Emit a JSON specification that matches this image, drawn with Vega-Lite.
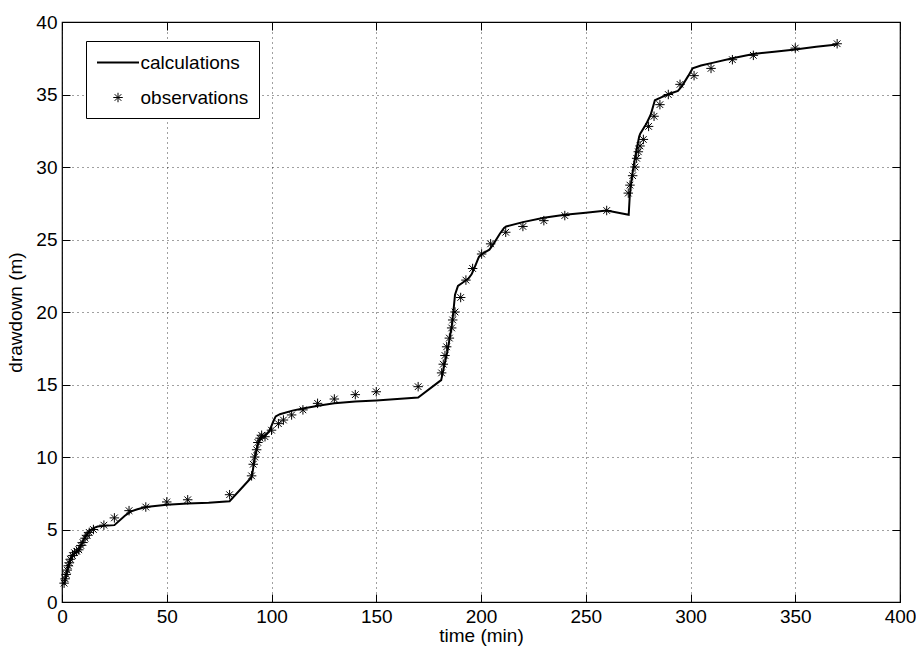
{
  "$schema": "https://vega.github.io/schema/vega-lite/v6.json",
  "width": 838,
  "height": 580,
  "autosize": {"type": "none"},
  "padding": {"left": 62, "top": 22, "right": 16, "bottom": 44},
  "background": "white",
  "config": {
    "font": "Liberation Sans",
    "view": {"stroke": "black", "strokeWidth": 1.2},
    "axis": {
      "labelFont": "Liberation Sans",
      "labelFontSize": 19,
      "labelColor": "black",
      "titleFont": "Liberation Sans",
      "titleFontSize": 19,
      "titleFontWeight": "normal",
      "titleColor": "black",
      "domain": false,
      "tickColor": "black",
      "tickSize": -8,
      "gridColor": "black",
      "gridDash": [1, 4],
      "gridOpacity": 0.75,
      "gridWidth": 1
    },
    "legend": {
      "title": null,
      "orient": "none",
      "legendX": 24,
      "legendY": 19,
      "strokeColor": "black",
      "fillColor": "white",
      "padding": 10,
      "labelFont": "Liberation Sans",
      "labelFontSize": 19,
      "labelColor": "black",
      "labelOffset": 11,
      "symbolOffset": 10.5,
      "rowPadding": 15,
      "symbolStrokeColor": "black",
      "symbolFillColor": "transparent"
    }
  },
  "datasets": {
    "calc": [
      {"t": 1, "d": 1.2}, {"t": 2, "d": 1.9}, {"t": 3, "d": 2.5}, {"t": 4, "d": 2.9}, {"t": 5, "d": 3.2},
      {"t": 6, "d": 3.35}, {"t": 7, "d": 3.45}, {"t": 8, "d": 3.6}, {"t": 9, "d": 3.9}, {"t": 10, "d": 4.2},
      {"t": 11, "d": 4.5}, {"t": 12, "d": 4.7}, {"t": 13, "d": 4.9}, {"t": 15, "d": 5.1}, {"t": 17, "d": 5.2},
      {"t": 20, "d": 5.25}, {"t": 25, "d": 5.3}, {"t": 30, "d": 5.95}, {"t": 33, "d": 6.25}, {"t": 36, "d": 6.4},
      {"t": 40, "d": 6.55}, {"t": 50, "d": 6.7}, {"t": 60, "d": 6.8}, {"t": 70, "d": 6.85}, {"t": 80, "d": 6.95},
      {"t": 90.5, "d": 8.6}, {"t": 91, "d": 9.0}, {"t": 92, "d": 9.9}, {"t": 93, "d": 10.6}, {"t": 94, "d": 11.1},
      {"t": 95, "d": 11.3}, {"t": 97, "d": 11.5}, {"t": 99, "d": 11.8}, {"t": 101, "d": 12.5}, {"t": 102, "d": 12.8},
      {"t": 104, "d": 12.95}, {"t": 110, "d": 13.2}, {"t": 115, "d": 13.35}, {"t": 123, "d": 13.55}, {"t": 130, "d": 13.7},
      {"t": 140, "d": 13.82}, {"t": 150, "d": 13.9}, {"t": 160, "d": 14.0}, {"t": 170, "d": 14.1}, {"t": 180, "d": 15.2},
      {"t": 181, "d": 15.3}, {"t": 182, "d": 16.0}, {"t": 184, "d": 17.3}, {"t": 186, "d": 19.0}, {"t": 187, "d": 20.3},
      {"t": 187.6, "d": 21.2}, {"t": 189, "d": 21.8}, {"t": 191, "d": 22.0}, {"t": 194, "d": 22.3}, {"t": 195.5, "d": 22.6},
      {"t": 197, "d": 23.1}, {"t": 199, "d": 23.8}, {"t": 200.5, "d": 24.0}, {"t": 204, "d": 24.3}, {"t": 206, "d": 24.7},
      {"t": 209, "d": 25.4}, {"t": 211, "d": 25.8}, {"t": 212, "d": 25.9}, {"t": 220, "d": 26.2}, {"t": 230, "d": 26.5},
      {"t": 240, "d": 26.7}, {"t": 250, "d": 26.85}, {"t": 260, "d": 27.0}, {"t": 270.5, "d": 26.7}, {"t": 271, "d": 28.0},
      {"t": 272, "d": 29.3}, {"t": 273, "d": 30.2}, {"t": 274, "d": 31.0}, {"t": 275.5, "d": 32.1}, {"t": 276, "d": 32.3},
      {"t": 279, "d": 33.0}, {"t": 281, "d": 33.6}, {"t": 283, "d": 34.6}, {"t": 286, "d": 34.8}, {"t": 289, "d": 35.0},
      {"t": 294, "d": 35.25}, {"t": 296, "d": 35.6}, {"t": 299, "d": 36.3}, {"t": 301, "d": 36.8}, {"t": 305, "d": 37.0},
      {"t": 311, "d": 37.2}, {"t": 320, "d": 37.5}, {"t": 330, "d": 37.8}, {"t": 340, "d": 37.95}, {"t": 350, "d": 38.1},
      {"t": 360, "d": 38.3}, {"t": 370, "d": 38.45}
    ],
    "obs": [
      {"t": 1, "d": 1.3, "series": "observations"}, {"t": 1.5, "d": 1.6, "series": "observations"}, {"t": 2, "d": 1.9, "series": "observations"},
      {"t": 2.5, "d": 2.2, "series": "observations"}, {"t": 3, "d": 2.5, "series": "observations"}, {"t": 3.5, "d": 2.7, "series": "observations"},
      {"t": 4, "d": 2.95, "series": "observations"}, {"t": 5, "d": 3.2, "series": "observations"}, {"t": 6, "d": 3.4, "series": "observations"},
      {"t": 7, "d": 3.5, "series": "observations"}, {"t": 8, "d": 3.6, "series": "observations"}, {"t": 9, "d": 3.9, "series": "observations"},
      {"t": 10, "d": 4.1, "series": "observations"}, {"t": 11, "d": 4.4, "series": "observations"}, {"t": 12, "d": 4.6, "series": "observations"},
      {"t": 13, "d": 4.8, "series": "observations"}, {"t": 15, "d": 5.0, "series": "observations"}, {"t": 20, "d": 5.3, "series": "observations"},
      {"t": 25, "d": 5.8, "series": "observations"}, {"t": 32, "d": 6.3, "series": "observations"}, {"t": 40, "d": 6.55, "series": "observations"},
      {"t": 50, "d": 6.9, "series": "observations"}, {"t": 60, "d": 7.05, "series": "observations"}, {"t": 80, "d": 7.4, "series": "observations"},
      {"t": 90.5, "d": 8.7, "series": "observations"}, {"t": 91.3, "d": 9.5, "series": "observations"}, {"t": 92, "d": 10.0, "series": "observations"},
      {"t": 92.9, "d": 10.5, "series": "observations"}, {"t": 93.5, "d": 11.0, "series": "observations"}, {"t": 94.5, "d": 11.3, "series": "observations"},
      {"t": 95.3, "d": 11.5, "series": "observations"}, {"t": 96.9, "d": 11.4, "series": "observations"}, {"t": 100, "d": 11.85, "series": "observations"},
      {"t": 103.3, "d": 12.3, "series": "observations"}, {"t": 105.7, "d": 12.55, "series": "observations"}, {"t": 109.6, "d": 12.9, "series": "observations"},
      {"t": 115, "d": 13.25, "series": "observations"}, {"t": 122, "d": 13.7, "series": "observations"}, {"t": 130, "d": 14.0, "series": "observations"},
      {"t": 140, "d": 14.3, "series": "observations"}, {"t": 150, "d": 14.5, "series": "observations"}, {"t": 170, "d": 14.85, "series": "observations"},
      {"t": 181.2, "d": 15.8, "series": "observations"}, {"t": 182, "d": 16.4, "series": "observations"}, {"t": 182.8, "d": 17.0, "series": "observations"},
      {"t": 183.6, "d": 17.6, "series": "observations"}, {"t": 184.9, "d": 18.2, "series": "observations"}, {"t": 186, "d": 18.9, "series": "observations"},
      {"t": 186.5, "d": 19.45, "series": "observations"}, {"t": 187.6, "d": 20.0, "series": "observations"}, {"t": 190.3, "d": 21.0, "series": "observations"},
      {"t": 192.8, "d": 22.2, "series": "observations"}, {"t": 196, "d": 23.0, "series": "observations"}, {"t": 200.3, "d": 24.0, "series": "observations"},
      {"t": 204.6, "d": 24.7, "series": "observations"}, {"t": 211.8, "d": 25.5, "series": "observations"}, {"t": 220, "d": 25.9, "series": "observations"},
      {"t": 230, "d": 26.3, "series": "observations"}, {"t": 240, "d": 26.65, "series": "observations"}, {"t": 260, "d": 27.0, "series": "observations"},
      {"t": 270.3, "d": 28.2, "series": "observations"}, {"t": 271.1, "d": 28.75, "series": "observations"}, {"t": 272.4, "d": 29.4, "series": "observations"},
      {"t": 273.5, "d": 30.0, "series": "observations"}, {"t": 274.3, "d": 30.6, "series": "observations"}, {"t": 275.1, "d": 31.05, "series": "observations"},
      {"t": 275.9, "d": 31.45, "series": "observations"}, {"t": 277.5, "d": 31.9, "series": "observations"}, {"t": 280, "d": 32.8, "series": "observations"},
      {"t": 282.6, "d": 33.5, "series": "observations"}, {"t": 285.4, "d": 34.3, "series": "observations"}, {"t": 289.4, "d": 35.0, "series": "observations"},
      {"t": 295, "d": 35.7, "series": "observations"}, {"t": 301.7, "d": 36.3, "series": "observations"}, {"t": 309.8, "d": 36.8, "series": "observations"},
      {"t": 320, "d": 37.4, "series": "observations"}, {"t": 330, "d": 37.7, "series": "observations"}, {"t": 350, "d": 38.2, "series": "observations"},
      {"t": 370, "d": 38.5, "series": "observations"}
    ]
  },
  "layer": [
    {
      "data": {"name": "calc"},
      "mark": {"type": "line", "color": "black", "strokeWidth": 2},
      "encoding": {
        "x": {
          "field": "t", "type": "quantitative",
          "scale": {"domain": [0, 400], "nice": false, "zero": false},
          "axis": {"orient": "bottom", "title": "time (min)", "values": [0, 50, 100, 150, 200, 250, 300, 350, 400], "grid": true, "labelPadding": 13, "titlePadding": 0, "labelFlush": false}
        },
        "y": {
          "field": "d", "type": "quantitative",
          "scale": {"domain": [0, 40], "nice": false, "zero": false},
          "axis": {"orient": "left", "title": "drawdown (m)", "values": [0, 5, 10, 15, 20, 25, 30, 35, 40], "grid": true, "labelPadding": 13, "titlePadding": 10, "labelFlush": false}
        }
      }
    },
    {
      "data": {"name": "obs"},
      "mark": {"type": "point", "filled": false, "stroke": "black", "opacity": 1},
      "encoding": {
        "x": {
          "field": "t", "type": "quantitative",
          "axis": {"orient": "top", "title": null, "labels": false, "grid": false, "values": [0, 50, 100, 150, 200, 250, 300, 350, 400]}
        },
        "y": {
          "field": "d", "type": "quantitative",
          "axis": {"orient": "right", "title": null, "labels": false, "grid": false, "values": [0, 5, 10, 15, 20, 25, 30, 35, 40]}
        },
        "shape": {
          "field": "series", "type": "nominal",
          "scale": {"domain": ["calculations", "observations"], "range": ["M-2,0L2,0", "M-1,0L1,0M0,-1L0,1M-0.7,-0.7L0.7,0.7M-0.7,0.7L0.7,-0.7"]},
          "legend": {"title": null}
        },
        "size": {
          "field": "series", "type": "nominal",
          "scale": {"domain": ["calculations", "observations"], "range": [441, 90]},
          "legend": {"title": null}
        },
        "strokeWidth": {
          "field": "series", "type": "nominal",
          "scale": {"domain": ["calculations", "observations"], "range": [2, 1]},
          "legend": {"title": null}
        }
      }
    }
  ],
  "resolve": {"axis": {"x": "independent", "y": "independent"}}
}
